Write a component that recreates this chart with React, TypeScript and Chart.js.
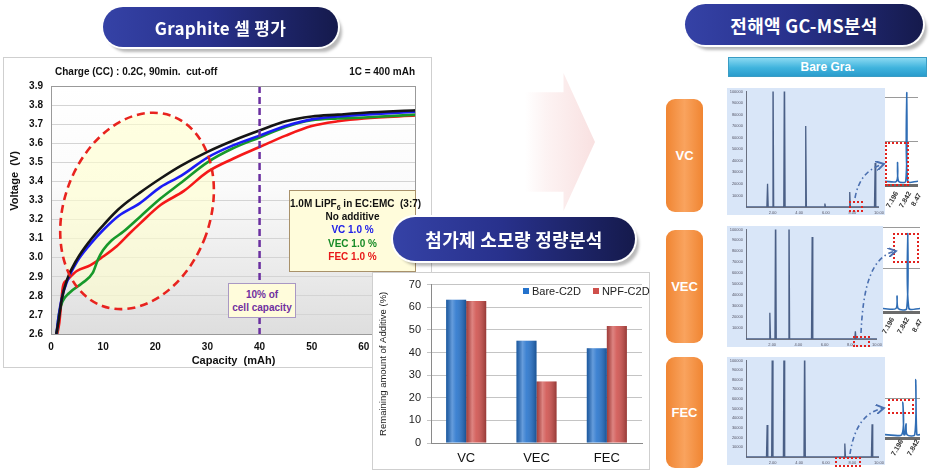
import React, { useEffect, useRef } from "react";
import { Chart, registerables } from "chart.js";
Chart.register(...registerables);

const FONT = "'Liberation Sans', Arial, sans-serif";
const KFONT = "'Noto Sans CJK KR', 'Noto Sans', sans-serif";

// ---------- Graphite cell: charge voltage profiles (capacity mAh / voltage V)
const capNone = [1.0, 1.4, 2.05, 3.0, 4.95, 7.5, 10, 12.6, 15, 17, 21, 24.8, 30, 35.1, 40.1, 45, 50, 55, 60, 70];
const voltNone = [2.6, 2.66, 2.78, 2.88, 2.99, 3.09, 3.17, 3.245, 3.3, 3.34, 3.415, 3.48, 3.555, 3.616, 3.668, 3.715, 3.74, 3.75, 3.76, 3.773];
const capVC = [1.05, 1.4, 2.0, 3.0, 5.0, 7.5, 10, 13, 17, 21, 25, 30, 35, 40, 45, 50, 55, 60, 70];
const voltVC = [2.6, 2.68, 2.78, 2.87, 2.98, 3.07, 3.145, 3.22, 3.285, 3.37, 3.43, 3.525, 3.59, 3.64, 3.69, 3.725, 3.74, 3.75, 3.765];
const capVEC = [1.1, 1.5, 2.2, 3.5, 6, 8, 9, 10, 11.6, 13.9, 17.1, 21, 24.8, 30, 35, 40, 45, 50, 55, 60, 70];
const voltVEC = [2.6, 2.7, 2.77, 2.815, 2.867, 2.92, 2.99, 3.04, 3.09, 3.137, 3.215, 3.31, 3.39, 3.5, 3.575, 3.63, 3.685, 3.72, 3.73, 3.735, 3.75];
const capFEC = [1.2, 1.6, 2.3, 3.0, 4.95, 7.5, 10, 12.6, 15.1, 17.1, 21, 25.5, 30, 35, 40, 45, 50, 55, 60, 70];
const voltFEC = [2.6, 2.66, 2.85, 2.88, 2.93, 2.96, 3.006, 3.06, 3.128, 3.18, 3.276, 3.35, 3.45, 3.52, 3.58, 3.64, 3.69, 3.715, 3.73, 3.745];
const cutoffCapacity = 40;
const ellipseCenter = [16.5, 3.245];
const ellipseRadii = [14, 0.53];

// ---------- Additive consumption (%)
const additives = ["VC", "VEC", "FEC"];
const bareC2D = [63.3, 45.2, 41.9];
const npfC2D = [62.7, 27.2, 51.7];

// ---------- GC-MS chromatogram peaks (relative time 0-100, relative abundance %)
const vcPeakTimes = [16.2, 20.3, 28.9, 44.9, 59.3, 78.0, 97.1];
const vcPeakHeights = [20, 130, 130, 70, 3, 13, 38];
const vecPeakTimes = [18.2, 22.6, 32.8, 50.5, 83.5];
const vecPeakHeights = [24, 130, 130, 93, 7];
const fecPeakTimes = [15.9, 19.8, 28.6, 44.1, 74.3, 94.8];
const fecPeakHeights = [33, 130, 130, 130, 14, 34];
const vcInsetTimes = [38, 66];
const vcInsetHeights = [20, 95];
const vecInsetTimes = [38, 67];
const vecInsetHeights = [15, 91];
const fecInsetTimes = [51, 60, 88];
const fecInsetHeights = [42, 14, 71];
const gcTimeLabels = ["2.00", "4.00", "6.00", "8.00", "10.00"];
const insetLabels = ["7.196", "7.842", "8.47"];

const mk = (xs: number[], ys: number[]) => xs.map((x, i) => ({ x, y: ys[i] }));

function spikes(times: number[], heights: number[], w: number) {
  const pts: { x: number; y: number }[] = [{ x: 0, y: 0 }];
  times.forEach((t, i) => {
    pts.push({ x: t - w, y: 0 }, { x: t, y: heights[i] }, { x: t + w, y: 0 });
  });
  pts.push({ x: 100, y: 0 });
  return pts;
}

const bgPlugin = {
  id: "bgGrad",
  beforeDraw(chart: any) {
    const { ctx, chartArea: a } = chart;
    const g = ctx.createLinearGradient(0, a.top, 0, a.bottom);
    g.addColorStop(0, "#ffffff");
    g.addColorStop(0.4, "#fbfbfb");
    g.addColorStop(1, "#dedede");
    ctx.save();
    ctx.fillStyle = g;
    ctx.fillRect(a.left, a.top, a.right - a.left, a.bottom - a.top);
    ctx.restore();
  },
  afterDraw(chart: any) {
    const { ctx, chartArea: a } = chart;
    ctx.save();
    ctx.strokeStyle = "#9a9a9a";
    ctx.lineWidth = 1;
    ctx.strokeRect(a.left + 0.5, a.top + 0.5, a.right - a.left - 1, a.bottom - a.top);
    ctx.restore();
  },
};

function ellipsePath(chart: any) {
  const { x, y } = chart.scales;
  const cx = x.getPixelForValue(ellipseCenter[0]);
  const cy = y.getPixelForValue(ellipseCenter[1]);
  const rx = Math.abs(x.getPixelForValue(ellipseCenter[0] + ellipseRadii[0]) - cx);
  const ry = Math.abs(y.getPixelForValue(ellipseCenter[1] + ellipseRadii[1]) - cy);
  chart.ctx.beginPath();
  chart.ctx.ellipse(cx, cy, rx, ry, 0.35, 0, Math.PI * 2);
}

const ellipsePlugin = {
  id: "ellipse",
  beforeDatasetsDraw(chart: any) {
    const ctx = chart.ctx;
    ctx.save();
    ellipsePath(chart);
    ctx.fillStyle = "rgba(255,255,205,0.6)";
    ctx.fill();
    ctx.restore();
  },
  afterDatasetsDraw(chart: any) {
    const ctx = chart.ctx;
    const a = chart.chartArea;
    ctx.save();
    ellipsePath(chart);
    ctx.strokeStyle = "#e8231e";
    ctx.lineWidth = 2.6;
    ctx.setLineDash([8, 5]);
    ctx.stroke();
    const px = chart.scales.x.getPixelForValue(cutoffCapacity);
    ctx.beginPath();
    ctx.moveTo(px, a.top);
    ctx.lineTo(px, a.bottom);
    ctx.strokeStyle = "#6a2fa0";
    ctx.lineWidth = 2.5;
    ctx.setLineDash([7, 4]);
    ctx.stroke();
    ctx.restore();
  },
};

function VoltageChart() {
  const ref = useRef<HTMLCanvasElement>(null);
  useEffect(() => {
    const chart = new Chart(ref.current!, {
      type: "line",
      data: {
        datasets: [
          { label: "No additive", data: mk(capNone, voltNone), borderColor: "#151515" },
          { label: "VC 1.0 %", data: mk(capVC, voltVC), borderColor: "#1c1cf5" },
          { label: "VEC 1.0 %", data: mk(capVEC, voltVEC), borderColor: "#17992a" },
          { label: "FEC 1.0 %", data: mk(capFEC, voltFEC), borderColor: "#f51818" },
        ],
      },
      options: {
        animation: false,
        responsive: false,
        elements: {
          point: { radius: 0 },
          line: { borderWidth: 2.6, cubicInterpolationMode: "monotone" },
        },
        layout: { padding: { top: 29, right: 16, left: 0, bottom: 0 } },
        plugins: { legend: { display: false }, tooltip: { enabled: false } },
        scales: {
          x: {
            type: "linear",
            min: 0,
            max: 70,
            ticks: { stepSize: 10, font: { size: 10, weight: "bold", family: FONT }, color: "#111", padding: 7 },
            grid: { display: false, drawTicks: false },
            border: { color: "#9a9a9a" },
            title: { display: true, text: "Capacity  (mAh)", font: { size: 11, weight: "bold", family: FONT }, color: "#111", padding: { top: 0, bottom: 0 } },
            afterFit(s: any) { s.height = 34; },
          },
          y: {
            min: 2.6,
            max: 3.9,
            ticks: { stepSize: 0.1, font: { size: 10, weight: "bold", family: FONT }, color: "#111", padding: 8, callback: (v: any) => Number(v).toFixed(1) },
            grid: { color: "#d4d4d4", drawTicks: false },
            border: { color: "#9a9a9a" },
            afterFit(s: any) { s.width = 48; },
          },
        },
      } as any,
      plugins: [bgPlugin, ellipsePlugin],
    });
    return () => chart.destroy();
  }, []);
  return <canvas ref={ref} width={429} height={311} style={{ position: "absolute", left: 3, top: 57 }} />;
}

const barShadePlugin = {
  id: "barShade",
  afterDatasetsDraw(chart: any) {
    const ctx = chart.ctx;
    ctx.save();
    chart.getSortedVisibleDatasetMetas().forEach((meta: any) => {
      meta.data.forEach((el: any) => {
        const w = el.width;
        const l = el.x - w / 2;
        const g = ctx.createLinearGradient(l, 0, l + w, 0);
        g.addColorStop(0, "rgba(0,0,0,0.22)");
        g.addColorStop(0.3, "rgba(255,255,255,0.30)");
        g.addColorStop(0.5, "rgba(255,255,255,0.12)");
        g.addColorStop(1, "rgba(0,0,0,0.28)");
        ctx.fillStyle = g;
        ctx.fillRect(l, el.y, w, el.base - el.y);
      });
    });
    ctx.restore();
  },
};

function BarChart() {
  const ref = useRef<HTMLCanvasElement>(null);
  useEffect(() => {
    const chart = new Chart(ref.current!, {
      type: "bar",
      data: {
        labels: additives,
        datasets: [
          { label: "Bare-C2D", data: bareC2D, backgroundColor: "#2472cc" },
          { label: "NPF-C2D", data: npfC2D, backgroundColor: "#cf4f4b" },
        ],
      },
      options: {
        animation: false,
        responsive: false,
        datasets: { bar: { barPercentage: 1, categoryPercentage: 0.57 } },
        layout: { padding: { top: 9, right: 8, left: 6, bottom: 0 } },
        plugins: { legend: { display: false }, tooltip: { enabled: false } },
        scales: {
          x: {
            grid: { display: false, drawTicks: false },
            border: { color: "#8a8a8a" },
            ticks: { font: { size: 13, family: FONT }, color: "#111", padding: 8 },
            afterFit(s: any) { s.height = 27; },
          },
          y: {
            min: 0,
            max: 70,
            ticks: { stepSize: 10, font: { size: 11, family: FONT }, color: "#222", padding: 6 },
            grid: { color: "#c4c4c4", drawTicks: true, tickLength: 4 },
            border: { color: "#8a8a8a" },
            title: { display: true, text: "Remaining amount of Additive (%)", font: { size: 9.5, family: FONT }, color: "#222", padding: { top: 0, bottom: 2 } },
            afterFit(s: any) { s.width = 53; },
          },
        },
      } as any,
      plugins: [barShadePlugin],
    });
    return () => chart.destroy();
  }, []);
  return <canvas ref={ref} width={278} height={198} style={{ position: "absolute", left: 372, top: 272 }} />;
}

function GcMain({ left, top, width, height, times, heights }: any) {
  const ref = useRef<HTMLCanvasElement>(null);
  useEffect(() => {
    const chart = new Chart(ref.current!, {
      type: "line",
      data: { datasets: [{ data: spikes(times, heights, 0.5), borderColor: "#4a5f86", borderWidth: 1.3, pointRadius: 0, tension: 0 }] },
      options: {
        animation: false,
        responsive: false,
        layout: { padding: { top: 2, right: 0, left: 2, bottom: 0 } },
        plugins: { legend: { display: false }, tooltip: { enabled: false } },
        scales: {
          x: {
            type: "linear", min: 0, max: 100,
            ticks: { stepSize: 20, font: { size: 4, family: FONT }, color: "#556", padding: 1, callback: (v: any) => gcTimeLabels[Math.round(v / 20) - 1] ?? "" },
            grid: { display: false, drawTicks: true, tickLength: 2 },
            border: { color: "#6a7080" },
            afterFit(s: any) { s.height = 8; },
          },
          y: {
            min: 0, max: 100,
            ticks: { stepSize: 10, font: { size: 4, family: FONT }, color: "#556", padding: 1, callback: (v: any) => (v === 0 ? "" : String(v * 1000)) },
            grid: { display: false, drawTicks: true, tickLength: 2 },
            border: { color: "#6a7080" },
            afterFit(s: any) { s.width = 17; },
          },
        },
      } as any,
    });
    return () => chart.destroy();
  }, []);
  return (
    <div style={{ position: "absolute", left, top, width, height, background: "#d9e6f8" }}>
      <canvas ref={ref} width={width} height={height} />
    </div>
  );
}

function GcInset({ left, top, width, height, times, heights }: any) {
  const ref = useRef<HTMLCanvasElement>(null);
  useEffect(() => {
    const chart = new Chart(ref.current!, {
      type: "line",
      data: { datasets: [{ data: spikes(times, heights, 3), borderColor: "#2f6db5", borderWidth: 1.6, pointRadius: 0, tension: 0.3 }] },
      options: {
        animation: false,
        responsive: false,
        layout: { padding: 0 },
        plugins: { legend: { display: false }, tooltip: { enabled: false } },
        scales: {
          x: { type: "linear", min: 0, max: 100, display: false },
          y: { min: -3, max: 100, display: false },
        },
      } as any,
    });
    return () => chart.destroy();
  }, []);
  return <canvas ref={ref} width={width} height={height} style={{ position: "absolute", left, top }} />;
}

function Banner({ left, top, width, height, text, size }: any) {
  return (
    <div
      style={{
        position: "absolute", left, top, width, height, borderRadius: height / 2,
        background: "linear-gradient(90deg,#3542a6 0%,#28318c 45%,#151a4c 100%)",
        boxShadow: "0 0 0 2px #ffffff, 4px 5px 3px rgba(0,0,0,0.28)",
        color: "#fff", fontFamily: KFONT, fontWeight: 700, fontSize: size,
        display: "flex", alignItems: "center", justifyContent: "center", letterSpacing: 0.3,
      }}
    >
      {text}
    </div>
  );
}

function OrangeBox({ top, height, text }: any) {
  return (
    <div
      style={{
        position: "absolute", left: 666, top, width: 37, height, borderRadius: 9,
        background: "linear-gradient(90deg,#f08532 0%,#f9a35e 50%,#f08532 100%)",
        color: "#fff", fontFamily: FONT, fontWeight: 700, fontSize: 13,
        display: "flex", alignItems: "center", justifyContent: "center",
      }}
    >
      {text}
    </div>
  );
}

function DotBox({ left, top, width, height }: any) {
  return <div style={{ position: "absolute", left, top, width, height, border: "2px dotted #e2231f", boxSizing: "border-box" }} />;
}

function HLine({ left, top, width, color = "#9a9a9a", h = 1 }: any) {
  return <div style={{ position: "absolute", left, top, width, height: h, background: color }} />;
}

function RotLabels({ xs, y, labels }: any) {
  return (
    <>
      {xs.map((x: number, i: number) => (
        <div key={i} style={{ position: "absolute", left: x - 10, top: y, width: 20, textAlign: "center", fontFamily: FONT, fontWeight: 700, fontSize: 7, color: "#333", transform: "rotate(-60deg)" }}>
          {labels[i]}
        </div>
      ))}
    </>
  );
}

export default function App() {
  return (
    <div style={{ position: "fixed", left: 0, top: 0, width: 940, height: 471, background: "#fff", overflow: "hidden", fontFamily: FONT }}>
      {/* big faded arrow */}
      <div
        style={{
          position: "absolute", left: 525, top: 73, width: 70, height: 138,
          background: "linear-gradient(90deg, rgba(255,255,255,0) 0%, rgba(250,228,228,0.45) 30%, rgba(246,212,212,0.7) 100%)",
          clipPath: "polygon(0% 14%, 55% 14%, 55% 0%, 100% 50%, 55% 100%, 55% 86%, 0% 86%)",
        }}
      />

      {/* left panel */}
      <div style={{ position: "absolute", left: 3, top: 57, width: 429, height: 311, border: "1px solid #cfcfcf", boxSizing: "border-box", background: "#fff" }} />
      <VoltageChart />
      <div style={{ position: "absolute", left: -36, top: 175, width: 100, textAlign: "center", fontSize: 11, fontWeight: 700, color: "#111", transform: "rotate(-90deg)", whiteSpace: "pre" }}>Voltage  (V)</div>
      <div style={{ position: "absolute", left: 55, top: 66, fontSize: 10, fontWeight: 700, color: "#111", whiteSpace: "pre" }}>Charge (CC) : 0.2C, 90min.  cut-off</div>
      <div style={{ position: "absolute", left: 330, top: 66, width: 85, textAlign: "right", fontSize: 10, fontWeight: 700, color: "#111" }}>1C = 400 mAh</div>
      <div
        style={{
          position: "absolute", left: 289, top: 190, width: 127, height: 82, boxSizing: "border-box",
          background: "#fffcdb", border: "1px solid #a8916a", textAlign: "center", fontSize: 10, fontWeight: 700, lineHeight: "13.2px", paddingTop: 6, whiteSpace: "pre",
        }}
      >
        <div style={{ color: "#111" }}>1.0M LiPF<sub style={{ fontSize: 7, lineHeight: 0 }}>6</sub> in EC:EMC  (3:7)</div>
        <div style={{ color: "#111" }}>No additive</div>
        <div style={{ color: "#2020e8" }}>VC 1.0 %</div>
        <div style={{ color: "#168a26" }}>VEC 1.0 %</div>
        <div style={{ color: "#e81818" }}>FEC 1.0 %</div>
      </div>
      <div
        style={{
          position: "absolute", left: 228, top: 283, width: 68, height: 35, boxSizing: "border-box",
          background: "#fffcdb", border: "1px solid #a998c4", textAlign: "center", fontSize: 10, fontWeight: 700, color: "#7030a0", lineHeight: "13px", paddingTop: 4,
        }}
      >
        <div>10% of</div>
        <div>cell capacity</div>
      </div>

      {/* bar panel */}
      <div style={{ position: "absolute", left: 372, top: 272, width: 278, height: 198, border: "1px solid #cfcfcf", boxSizing: "border-box", background: "#fff" }} />
      <BarChart />
      <div style={{ position: "absolute", left: 523, top: 285, fontSize: 11, color: "#222", display: "flex", alignItems: "center", whiteSpace: "pre" }}>
        <span style={{ display: "inline-block", width: 6, height: 6, background: "#2472cc", marginRight: 3 }} />
        <span>Bare-C2D</span>
        <span style={{ display: "inline-block", width: 6, height: 6, background: "#cf4f4b", marginLeft: 12, marginRight: 3 }} />
        <span>NPF-C2D</span>
      </div>

      {/* banners */}
      <Banner left={103} top={7} width={235} height={40} text="Graphite 셀 평가" size={17} />
      <Banner left={393} top={217} width={242} height={44} text="첨가제 소모량 정량분석" size={18} />
      <Banner left={685} top={4} width={238} height={41} text="전해액 GC-MS분석" size={18} />

      {/* Bare Gra. header */}
      <div
        style={{
          position: "absolute", left: 728, top: 57, width: 199, height: 20, boxSizing: "border-box",
          background: "linear-gradient(180deg,#8ad9f2 0%,#3fb3dd 55%,#2a9ccc 100%)", border: "1px solid #3a9cc4",
          color: "#fff", fontSize: 12, fontWeight: 700, display: "flex", alignItems: "center", justifyContent: "center",
        }}
      >
        Bare Gra.
      </div>

      <OrangeBox top={99} height={113} text="VC" />
      <OrangeBox top={230} height={113} text="VEC" />
      <OrangeBox top={357} height={111} text="FEC" />

      {/* VC GC-MS */}
      <GcMain left={727} top={88} width={158} height={127} times={vcPeakTimes} heights={vcPeakHeights} />
      <HLine left={885} top={97} width={33} />
      <HLine left={885} top={141} width={33} />
      <HLine left={885} top={184} width={33} color="#6b6b6b" h={3} />
      <GcInset left={885} top={88} width={33} height={96} times={vcInsetTimes} heights={vcInsetHeights} />
      <DotBox left={885} top={142} width={24} height={44} />
      <DotBox left={849} top={201} width={14} height={11} />
      <RotLabels xs={[892, 905, 916]} y={196} labels={insetLabels} />

      {/* VEC GC-MS */}
      <GcMain left={727} top={226} width={156} height={121} times={vecPeakTimes} heights={vecPeakHeights} />
      <HLine left={883} top={227} width={37} />
      <HLine left={883} top={268} width={37} />
      <HLine left={883} top={311} width={37} color="#6b6b6b" h={3} />
      <GcInset left={883} top={226} width={37} height={85} times={vecInsetTimes} heights={vecInsetHeights} />
      <DotBox left={893} top={233} width={26} height={30} />
      <DotBox left={853} top={336} width={17} height={11} />
      <RotLabels xs={[888, 903, 917]} y={322} labels={insetLabels} />

      {/* FEC GC-MS */}
      <GcMain left={727} top={357} width={158} height={108} times={fecPeakTimes} heights={fecPeakHeights} />
      <HLine left={885} top={398} width={35} />
      <HLine left={885} top={437} width={35} color="#6b6b6b" h={3} />
      <GcInset left={885} top={357} width={35} height={80} times={fecInsetTimes} heights={fecInsetHeights} />
      <DotBox left={888} top={399} width={26} height={15} />
      <DotBox left={835} top={457} width={26} height={10} />
      <RotLabels xs={[897, 913]} y={444} labels={insetLabels} />

      {/* dash-dot connector arrows */}
      <svg width={940} height={471} style={{ position: "absolute", left: 0, top: 0, pointerEvents: "none" }}>
        <defs>
          <marker id="ah" markerWidth="6" markerHeight="6" refX="5" refY="3" orient="auto">
            <path d="M0,0 L5,3 L0,6" fill="none" stroke="#4a6fb0" strokeWidth="1.2" />
          </marker>
        </defs>
        <g fill="none" stroke="#4a6fb0" strokeWidth="1.6" strokeDasharray="5 3 1.5 3" markerEnd="url(#ah)">
          <path d="M 855 198 Q 860 170 884 164" />
          <path d="M 861 333 C 863 290 870 256 896 251" />
          <path d="M 850 454 Q 856 413 884 408" />
        </g>
      </svg>
    </div>
  );
}
